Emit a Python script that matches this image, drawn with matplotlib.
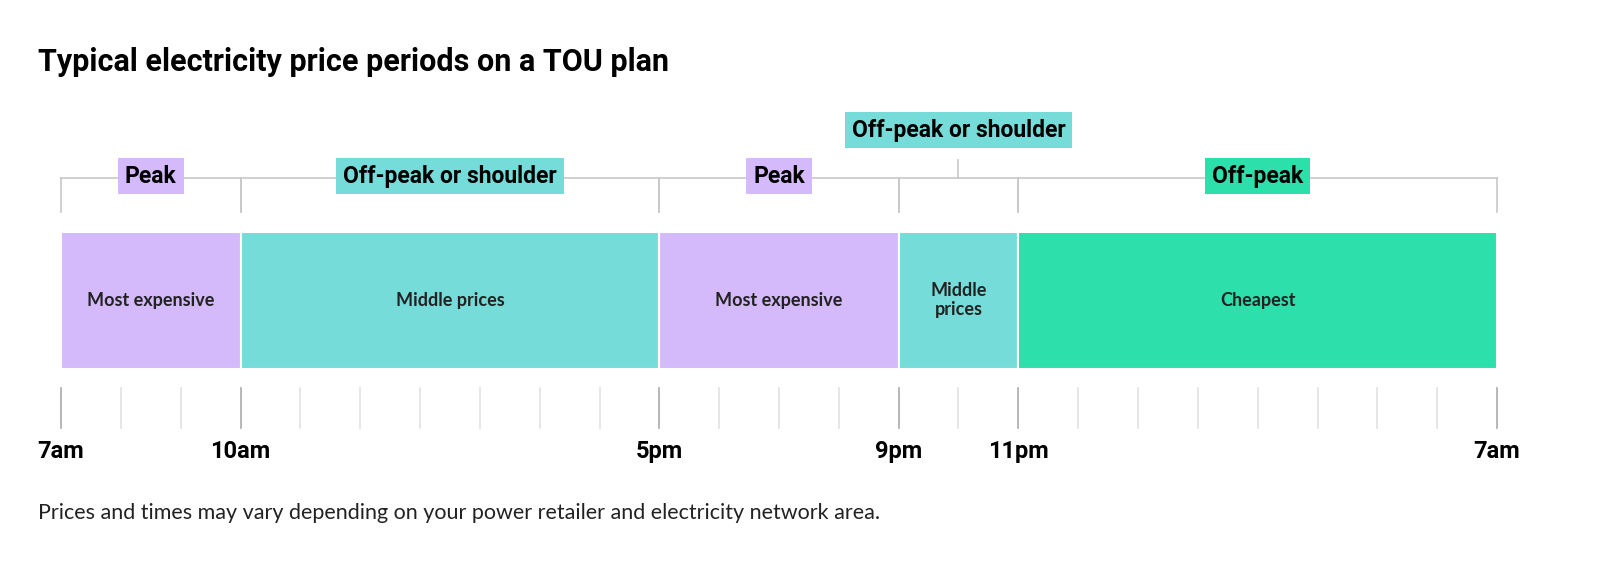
import matplotlib.pyplot as plt
from matplotlib.patches import Rectangle

# hours after 7am
starts = [0, 3, 10, 14, 16]
ends = [3, 10, 14, 16, 24]
bar_labels = ["Most expensive", "Middle prices", "Most expensive", "Middle\nprices", "Cheapest"]
period_labels = ["Peak", "Off-peak or shoulder", "Peak", "Off-peak or shoulder", "Off-peak"]
colors = ["#d4b9fb", "#76dcd9", "#d4b9fb", "#76dcd9", "#2cdfab"]
tick_hours = [0, 3, 10, 14, 16, 24]
tick_labels = ["7am", "10am", "5pm", "9pm", "11pm", "7am"]

W, H = 1600, 569
fig = plt.figure(figsize=(W / 100, H / 100), dpi=100)
ax = fig.add_axes([0, 0, 1, 1])
px = 1436 / 24
ax.set_xlim(-61 / px, 24 + (W - 1497) / px)
ax.set_ylim(H, 0)
ax.axis("off")

cond = "Roboto"
grey = "#c8c8c8"

fig.text(38 / W, 1 - 62 / H, "Typical electricity price periods on a TOU plan",
         family=cond, weight="bold", fontsize=22, va="center")

for s, e, lab, per, c in zip(starts, ends, bar_labels, period_labels, colors):
    ax.add_patch(Rectangle((s, 232), e - s, 137, facecolor=c, edgecolor="white", lw=1.5))
    mid = (s + e) / 2
    ax.text(mid, 300, lab, ha="center", va="center", fontsize=13, weight="bold",
            family="Lato", color="#222222", linespacing=1.1)
    # bracket
    ax.plot([s, e], [178, 178], color=grey, lw=1.2, zorder=1)
    ax.plot([s, s], [178, 212], color=grey, lw=1.2)
    ax.plot([e, e], [178, 212], color=grey, lw=1.2)
    ylab = 176
    if e - s < 3:
        ax.plot([mid, mid], [160, 178], color=grey, lw=1.2)
        ylab = 130
    ax.text(mid, ylab, per, ha="center", va="center", fontsize=16.5, weight="bold",
            family=cond, color="black", zorder=3,
            bbox=dict(boxstyle="square,pad=0.3", facecolor=c, edgecolor="none"))

for h in range(25):
    major = h in tick_hours
    ax.plot([h, h], [388, 428], color="#aaaaaa" if major else "#e2e2e2", lw=1.2)
for h, lab in zip(tick_hours, tick_labels):
    ax.text(h, 451, lab, ha="center", va="center", fontsize=17, weight="bold", family=cond)

fig.text(38 / W, 1 - 513 / H,
         "Prices and times may vary depending on your power retailer and electricity network area.",
         family="Lato", fontsize=15.5, va="center", color="#222222")

fig.savefig("out.png", dpi=100, facecolor="white")
